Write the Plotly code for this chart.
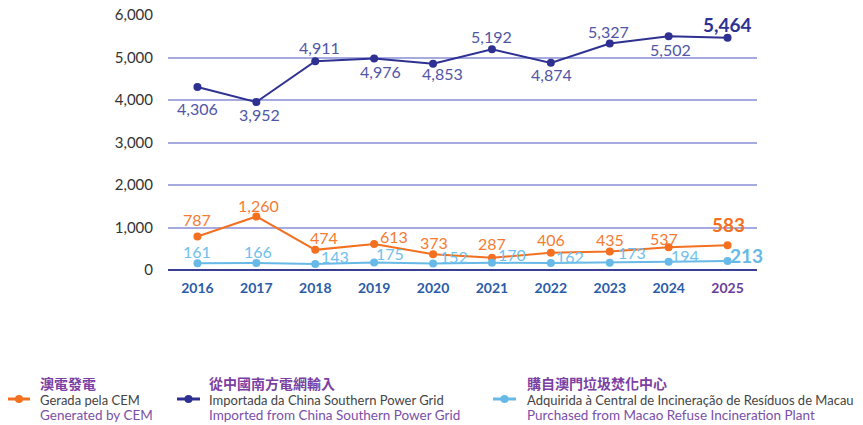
import plotly.graph_objects as go

years = ["2016", "2017", "2018", "2019", "2020", "2021", "2022", "2023", "2024", "2025"]
cem = [787, 1260, 474, 613, 373, 287, 406, 435, 537, 583]
csg = [4306, 3952, 4911, 4976, 4853, 5192, 4874, 5327, 5502, 5464]
incin = [161, 166, 143, 175, 152, 170, 162, 173, 194, 213]

# label offsets in pixels (dx, dy with dy positive = up)
csg_off = [(0, -21), (3, -12), (4, 14), (6, -13), (9, -10), (0, 13), (1, -12), (-1, 12), (2, -13), (0, 13)]
cem_off = [(0, 17), (2, 11), (9, 12), (20, 7), (1, 12), (0, 14), (0, 13), (0, 12), (-5, 9), (1, 21)]
incin_off = [(0, 12), (2, 11), (20, 7), (16, 9), (21, 7), (20, 8), (19, 7), (22, 10), (16, 6), (19, 5)]

ORANGE = "#f37021"
NAVY = "#2e3192"
LBLUE = "#67b9e7"
FONT = "Lato, Open Sans, sans-serif"
CJK = "Noto Sans CJK TC"

W, H = 863, 425
L, R, T, B = 168, 757, 15, 270

fig = go.Figure()
annotations = []


def add_series(vals, color, lblcolor, offs):
    fig.add_trace(go.Scatter(
        x=years, y=vals, mode="lines+markers", line=dict(color=color, width=2),
        marker=dict(size=8, color=color), cliponaxis=False, showlegend=False,
        hoverinfo="x+y"))
    n = len(vals)
    for i, v in enumerate(vals):
        last = i == n - 1
        dx, dy = offs[i]
        txt = f"{v:,}"
        annotations.append(dict(
            x=i, y=v, xref="x", yref="y", showarrow=False,
            text=("<b>" + txt + "</b>") if last else txt,
            xanchor="center", yanchor="middle", xshift=dx, yshift=dy,
            font=dict(family=FONT, size=19 if last else 16,
                      color=color if last else lblcolor)))


add_series(csg, NAVY, "#5055a6", csg_off)
add_series(cem, ORANGE, "#f47b32", cem_off)
add_series(incin, LBLUE, "#6fc0ec", incin_off)

ticktext = ["<b>" + y + "</b>" for y in years]
ticktext[-1] = "<span style='color:#6b3d9a'><b>2025</b></span>"


def px(x):
    return (x - L) / (R - L)


def py(y):
    return (B - y) / (B - T)


shapes = []
legend_items = [
    (8, 30, 38, ORANGE, "澳電發電", "Gerada pela CEM", "Generated by CEM"),
    (177, 200, 207, NAVY, "從中國南方電網輸入", "Importada da China Southern Power Grid",
     "Imported from China Southern Power Grid"),
    (493, 516, 525, LBLUE, "購自澳門垃圾焚化中心", "Adquirida à Central de Incineração de Resíduos de Macau",
     "Purchased from Macao Refuse Incineration Plant"),
]
for x0, x1, tx, col, zh, pt, en in legend_items:
    shapes.append(dict(type="line", xref="paper", yref="paper", x0=px(x0), x1=px(x1),
                       y0=py(399), y1=py(399), line=dict(color=col, width=3)))
    cx = (x0 + x1) / 2
    shapes.append(dict(type="circle", xref="paper", yref="paper", x0=px(cx - 4), x1=px(cx + 4),
                       y0=py(403), y1=py(395), fillcolor=col, line=dict(color=col, width=0)))
    annotations.append(dict(xref="paper", yref="paper", x=px(tx), y=py(383), xanchor="left",
                            yanchor="middle", showarrow=False, text="<b>" + zh + "</b>",
                            font=dict(family=CJK, size=14, color="#7b3fa3")))
    annotations.append(dict(xref="paper", yref="paper", x=px(tx), y=py(399.5), xanchor="left",
                            yanchor="middle", showarrow=False, text=pt,
                            font=dict(family=FONT, size=13, color="#444444")))
    annotations.append(dict(xref="paper", yref="paper", x=px(tx), y=py(414.5), xanchor="left",
                            yanchor="middle", showarrow=False, text=en,
                            font=dict(family=FONT, size=13.5, color="#7b4fa8")))

fig.update_layout(
    width=W, height=H, margin=dict(l=L, r=W - R, t=T, b=H - B, autoexpand=False),
    paper_bgcolor="white", plot_bgcolor="white",
    xaxis=dict(type="category", range=[-0.5, 9.5], tickvals=years, ticktext=ticktext,
               showgrid=False, zeroline=False, showline=False, ticks="", automargin=False,
               ticklabelstandoff=8,
               tickfont=dict(family=FONT, size=14, color="#2b5ca8")),
    yaxis=dict(range=[0, 6000], tickvals=[0, 1000, 2000, 3000, 4000, 5000, 6000],
               tickformat=",", showgrid=True, gridcolor="#a7aadf", gridwidth=1.5,
               zeroline=True, zerolinecolor="#3b3f94", zerolinewidth=2, showline=False,
               ticks="", ticklabelstandoff=14, automargin=False,
               tickfont=dict(family=FONT, size=15, color="#333333")),
    shapes=shapes, annotations=annotations,
)

fig.write_html("out.html", post_script="document.body.style.margin='0';",
               config={"displayModeBar": False})
